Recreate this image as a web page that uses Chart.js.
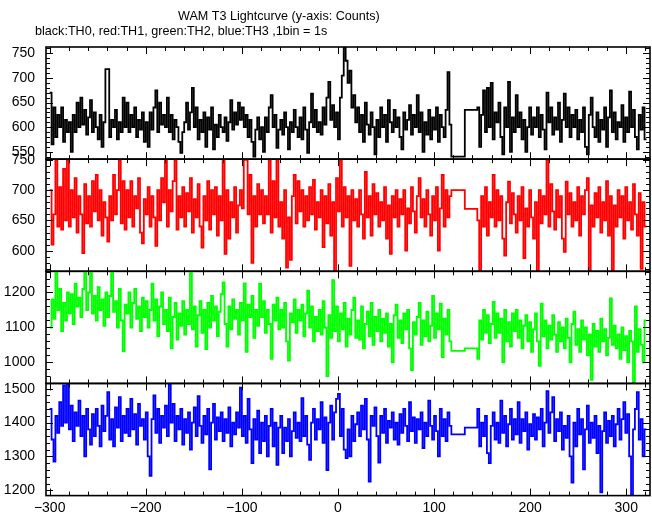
<!DOCTYPE html>
<html>
<head>
<meta charset="utf-8">
<script src="https://cdn.jsdelivr.net/npm/chart.js@4"></script>
<style>
  body { margin: 0; background: #fff; }
  canvas { display: block; }
</style>
</head>
<body>
<canvas id="wamChart" width="652" height="515"></canvas>
<script>
// WAM T3 lightcurve, 4 energy channels. values (2 s per entry)
const preStart = -300;   // first bin before the data gap
const postStart = 145;   // first bin after the gap
const binSec = 2;
const gapStarts = [118, 132];  // two long bins across the gap
const endTime = 321;

const th0Pre = [
  670,565,640,580,625,600,640,570,615,590,
  610,550,625,590,650,600,660,605,635,585,
  620,655,590,630,600,575,625,560,610,718,
  718,580,615,600,635,575,610,590,660,600,
  650,590,625,600,640,580,615,595,630,570,
  610,560,630,595,640,675,590,650,605,625,
  600,660,590,625,575,615,600,570,548,590,
  610,650,595,630,680,600,640,575,615,590,
  630,560,620,595,640,555,605,580,625,600,
  590,620,572,610,655,595,630,605,650,615,
  640,600,625,580,615,570,540,595,620,575,
  600,550,620,590,640,665,600,625,558,595,
  615,585,630,600,555,610,590,635,600,580,
  620,575,640,595,548,610,668,600,635,590,
  610,585,640,605,660,692,615,645,600,630,
  575,660,705,762,735,690,715,640,665,610,
  640,590,625,570,650,605,585,630,600,545,
  615,580,640,600,625,570,655,610,590,635,
  600,620,580,555,630,595,615,645,585,625,
  600,665,590,630,550,610,585,635,575,620,
  595,640,570,625,600,580,635,712,605
];
const th0Gap = [540, 635];
const th0Post = [
  640,560,625,675,590,680,600,690,575,630,
  610,650,580,545,640,600,692,550,620,590,
  665,600,630,575,615,550,600,640,585,620,
  600,640,580,625,595,555,670,610,640,585,
  620,595,650,570,615,668,600,640,580,625,
  600,635,575,615,590,640,560,545,625,660,
  600,580,630,570,615,595,640,560,620,675,
  590,630,575,610,600,645,570,620,590,672,
  600,635,580,555,625,595,640,575
];

const th1Pre = [
  700,610,660,750,640,705,635,735,650,750,
  640,700,655,720,630,690,660,596,710,645,
  690,640,715,665,725,650,700,625,680,655,
  615,690,650,725,660,700,750,645,715,635,
  700,655,715,640,690,670,720,630,612,685,
  660,705,640,690,655,608,700,650,720,680,
  750,640,700,665,715,750,635,690,655,705,
  640,695,665,720,630,685,655,710,640,605,
  690,650,715,635,700,660,705,625,690,650,
  750,595,700,620,680,655,705,630,675,700,
  670,750,750,660,725,580,690,640,710,660,
  700,645,690,660,750,630,715,655,750,640,
  680,620,700,572,655,585,690,725,645,715,
  665,700,640,690,650,705,660,717,635,680,
  655,700,606,690,645,710,625,680,566,720,
  665,750,640,705,655,690,575,700,650,685,
  640,700,660,620,730,655,690,625,710,660,
  695,640,680,650,705,620,675,595,690,655,
  700,640,685,660,700,600,670,645,705,665,
  630,690,720,655,685,640,700,660,625,690,
  650,705,600,670,725,640,700,655,690
];
const th1Gap = [700, 669];
const th1Post = [
  650,566,690,640,705,625,680,655,725,640,
  700,650,690,620,592,680,714,645,695,660,
  630,690,650,705,588,670,640,700,655,620,
  680,566,700,645,690,660,750,640,710,665,
  635,700,655,690,620,598,714,660,695,640,
  680,650,705,625,690,660,700,720,566,675,
  640,695,655,705,630,680,650,715,625,690,
  568,675,640,700,655,690,620,705,650,680,
  635,710,660,625,695,570,680,640
];

const th2Pre = [
  1100,1180,1125,1255,1150,1210,1090,1170,1120,1200,
  1140,1195,1110,1225,1160,1185,1130,1210,1255,1150,
  1200,1255,1140,1190,1120,1215,1150,1180,1105,1200,
  1130,1190,1255,1145,1175,1100,1210,1120,1032,1165,
  1140,1200,1100,1170,1210,1125,1160,1090,1185,1130,
  1175,1100,1150,1225,1120,1180,1075,1160,1200,1110,
  1150,1090,1185,1040,1130,1170,1065,1140,1105,1175,
  1080,1150,1110,1255,1095,1160,1045,1135,1175,1085,
  1150,1038,1170,1100,1190,1120,1160,1075,1145,1195,
  1229,1110,1045,1160,1095,1180,1125,1150,1080,1170,
  1120,1226,1030,1165,1130,1190,1070,1150,1105,1225,
  1130,1175,1085,1150,1110,1010,1165,1120,1185,1095,
  1150,1100,1170,1060,1005,1140,1115,1180,1085,1150,
  1120,1165,1075,1140,1205,1100,1160,1060,1130,1090,
  1150,1080,1175,1100,961,1135,1070,1235,1090,1160,
  1060,1140,1095,1170,1045,1125,1080,1150,1185,1070,
  1120,1065,1160,1040,1110,1145,1075,1170,1050,1130,
  1090,1150,1060,1125,1085,1140,1045,1110,1000,1135,
  1165,1070,1120,1055,1140,1095,1150,1040,978,1115,
  1080,1130,1170,1050,1120,1075,1145,1060,1105,1190,
  1070,1140,1095,1168,1015,1125,1080,1150,1060
];
const th2Gap = [1033, 1040];
const th2Post = [
  1010,1120,1065,1150,1085,1135,1055,1110,1173,1070,
  1140,1085,1125,1000,1150,1060,1115,1045,1140,1090,
  1150,1070,1120,1040,1105,1135,1060,1115,1030,1095,
  1140,1060,990,1168,1075,1120,1040,1105,1065,1135,
  1080,1030,1115,1060,1100,1040,1125,1070,1000,1110,
  1145,1050,1095,1030,1120,1065,1100,1020,1080,950,
  1110,1045,1090,1030,1125,1060,1095,1020,1070,1183,
  1050,1105,1040,1080,1010,1100,1035,1075,1000,1090,
  1060,942,1160,1030,1095,1050,1000,1120
];

const th3Pre = [
  1440,1350,1285,1420,1370,1460,1390,1510,1400,1514,
  1380,1450,1345,1430,1390,1465,1360,1420,1300,1440,
  1380,1335,1425,1360,1440,1390,1330,1450,1375,1420,
  1490,1350,1410,1330,1445,1385,1475,1345,1420,1370,
  1440,1360,1470,1380,1425,1335,1455,1390,1410,1350,
  1430,1300,1243,1410,1480,1370,1440,1340,1420,1385,
  1450,1360,1512,1400,1455,1345,1420,1380,1440,1335,
  1410,1370,1430,1320,1400,1445,1360,1478,1390,1340,
  1420,1365,1440,1262,1400,1455,1350,1415,1375,1430,
  1345,1410,1370,1445,1330,1400,1365,1430,1385,1503,
  1360,1420,1340,1470,1380,1280,1410,1350,1435,1310,
  1400,1345,1420,1300,1390,1440,1330,1400,1275,1385,
  1420,1310,1385,1345,1410,1300,1375,1430,1355,1400,
  1345,1472,1360,1420,1335,1290,1400,1440,1350,1410,
  1380,1460,1340,1415,1260,1400,1450,1350,1430,1470,
  1485,1360,1440,1320,1295,1380,1300,1420,1345,1395,
  1430,1360,1450,1380,1470,1350,1226,1420,1390,1445,
  1360,1282,1420,1370,1440,1340,1405,1385,1430,1350,
  1400,1335,1425,1370,1440,1390,1345,1460,1375,1415,
  1340,1410,1380,1430,1325,1400,1360,1465,1390,1350,
  1420,1375,1300,1440,1360,1410,1345,1430,1390
];
const th3Gap = [1365, 1385];
const th3Post = [
  1440,1330,1400,1360,1420,1310,1280,1390,1430,1350,
  1400,1340,1465,1370,1420,1330,1395,1440,1350,1410,
  1365,1460,1340,1410,1375,1430,1320,1395,1360,1425,
  1350,1415,1380,1440,1330,1400,1493,1370,1430,1475,
  1345,1410,1375,1430,1320,1390,1355,1420,1300,1223,
  1400,1330,1440,1365,1410,1262,1380,1450,1340,1400,
  1355,1420,1310,1390,1194,1375,1430,1340,1405,1360,
  1420,1330,1395,1440,1350,1410,1460,1370,1425,1300,
  1186,1380,1440,1490,1350,1410,1300,1380
];

const xTicks = [-300, -200, -100, 0, 100, 200, 300];
const yTicks = [
  [550, 600, 650, 700, 750],
  [600, 650, 700, 750],
  [1000, 1100, 1200],
  [1200, 1300, 1400, 1500]
];
const yMinorStep = [10, 10, 20, 20];
const yRanges = [[535, 763], [566, 751.2], [940, 1260.6], [1184.4, 1515.5]];
const lineColors = ['#000000', '#ff0000', '#00ff00', '#0000ff'];

const titleText = 'WAM T3 Lightcurve (y-axis: Counts)';
const subText = 'black:TH0, red:TH1, green:TH2, blue:TH3 ,1bin = 1s';

function buildPoints(pre, gap, post) {
  let pts = [];
  pre.forEach((v, i) => pts.push({x: preStart + i * binSec, y: v}));
  gap.forEach((v, i) => pts.push({x: gapStarts[i], y: v}));
  post.forEach((v, i) => pts.push({x: postStart + i * binSec, y: v}));
  pts.push({x: endTime, y: post[post.length - 1]});
  return pts;
}

const series = [
  buildPoints(th0Pre, th0Gap, th0Post),
  buildPoints(th1Pre, th1Gap, th1Post),
  buildPoints(th2Pre, th2Gap, th2Post),
  buildPoints(th3Pre, th3Gap, th3Post)
];

Chart.defaults.font.family = "'Liberation Sans', Arial, sans-serif";
Chart.defaults.color = '#000';

let scales = {
  x: {
    type: 'linear', position: 'bottom', min: -303.8, max: 324.7,
    grid: {display: false, drawTicks: false}, border: {display: false},
    ticks: {padding: 4, font: {size: 14}, autoSkip: false, maxRotation: 0,
      callback: v => v < 0 ? '\u2212' + Math.abs(v) : String(v)},
    afterBuildTicks: ax => { ax.ticks = xTicks.map(v => ({value: v})); },
    afterFit: ax => { ax.height = 19; }
  }
};
// stacked axes get placed bottom-up, so add the bottom panel first
for (let p = 3; p >= 0; p--) {
  scales['y' + p] = {
    type: 'linear', position: 'left', stack: 'wam', stackWeight: 1,
    min: yRanges[p][0], max: yRanges[p][1],
    grid: {display: false, drawTicks: false}, border: {display: false},
    ticks: {padding: 11, font: {size: 14}, autoSkip: false, callback: v => String(v)},
    afterBuildTicks: ax => { ax.ticks = yTicks[p].map(v => ({value: v})); },
    afterFit: ax => { ax.width = 46; }
  };
}

// inward tick marks + panel frames, like the original plot
const framePlugin = {
  id: 'frames',
  afterDraw(chart) {
    const ctx = chart.ctx;
    const a = chart.chartArea;
    const xs = chart.scales.x;
    ctx.save();
    ctx.strokeStyle = '#000';
    for (let p = 0; p < 4; p++) {
      const ys = chart.scales['y' + p];
      const top = ys.top, bot = ys.bottom;
      ctx.lineWidth = 1;
      ctx.beginPath();
      for (let v = -300; v <= 320; v += 20) {
        const px = Math.round(xs.getPixelForValue(v)) + 0.5;
        const len = v % 100 === 0 ? 7 : 4;
        ctx.moveTo(px, top); ctx.lineTo(px, top + len);
        ctx.moveTo(px, bot); ctx.lineTo(px, bot - len);
      }
      const st = yMinorStep[p];
      for (let v = Math.ceil(ys.min / st) * st; v <= ys.max; v += st) {
        const py = Math.round(ys.getPixelForValue(v)) + 0.5;
        const len = yTicks[p].includes(v) ? 7 : 4;
        ctx.moveTo(a.left, py); ctx.lineTo(a.left + len, py);
        ctx.moveTo(a.right, py); ctx.lineTo(a.right - len, py);
      }
      ctx.stroke();
      ctx.lineWidth = 1.6;
      ctx.strokeRect(a.left, top, a.right - a.left, bot - top);
    }
    ctx.fillStyle = '#000';
    ctx.font = "12.6px 'Liberation Sans', Arial, sans-serif";
    ctx.textAlign = 'left';
    ctx.textBaseline = 'alphabetic';
    ctx.fillText(titleText, 178, 20);
    ctx.fillText(subText, 35, 35);
    ctx.restore();
  }
};

new Chart(document.getElementById('wamChart'), {
  type: 'line',
  data: {
    datasets: series.map((pts, p) => ({
      label: 'TH' + p,
      data: pts,
      yAxisID: 'y' + p,
      borderColor: lineColors[p],
      borderWidth: 1.8,
      pointRadius: 0,
      stepped: true,
      fill: false
    }))
  },
  options: {
    responsive: false,
    animation: false,
    events: [],
    layout: {padding: {top: 47, right: 2, left: 0, bottom: 0}},
    plugins: {legend: {display: false}, tooltip: {enabled: false}},
    scales: scales
  },
  plugins: [framePlugin]
});
</script>
</body>
</html>
